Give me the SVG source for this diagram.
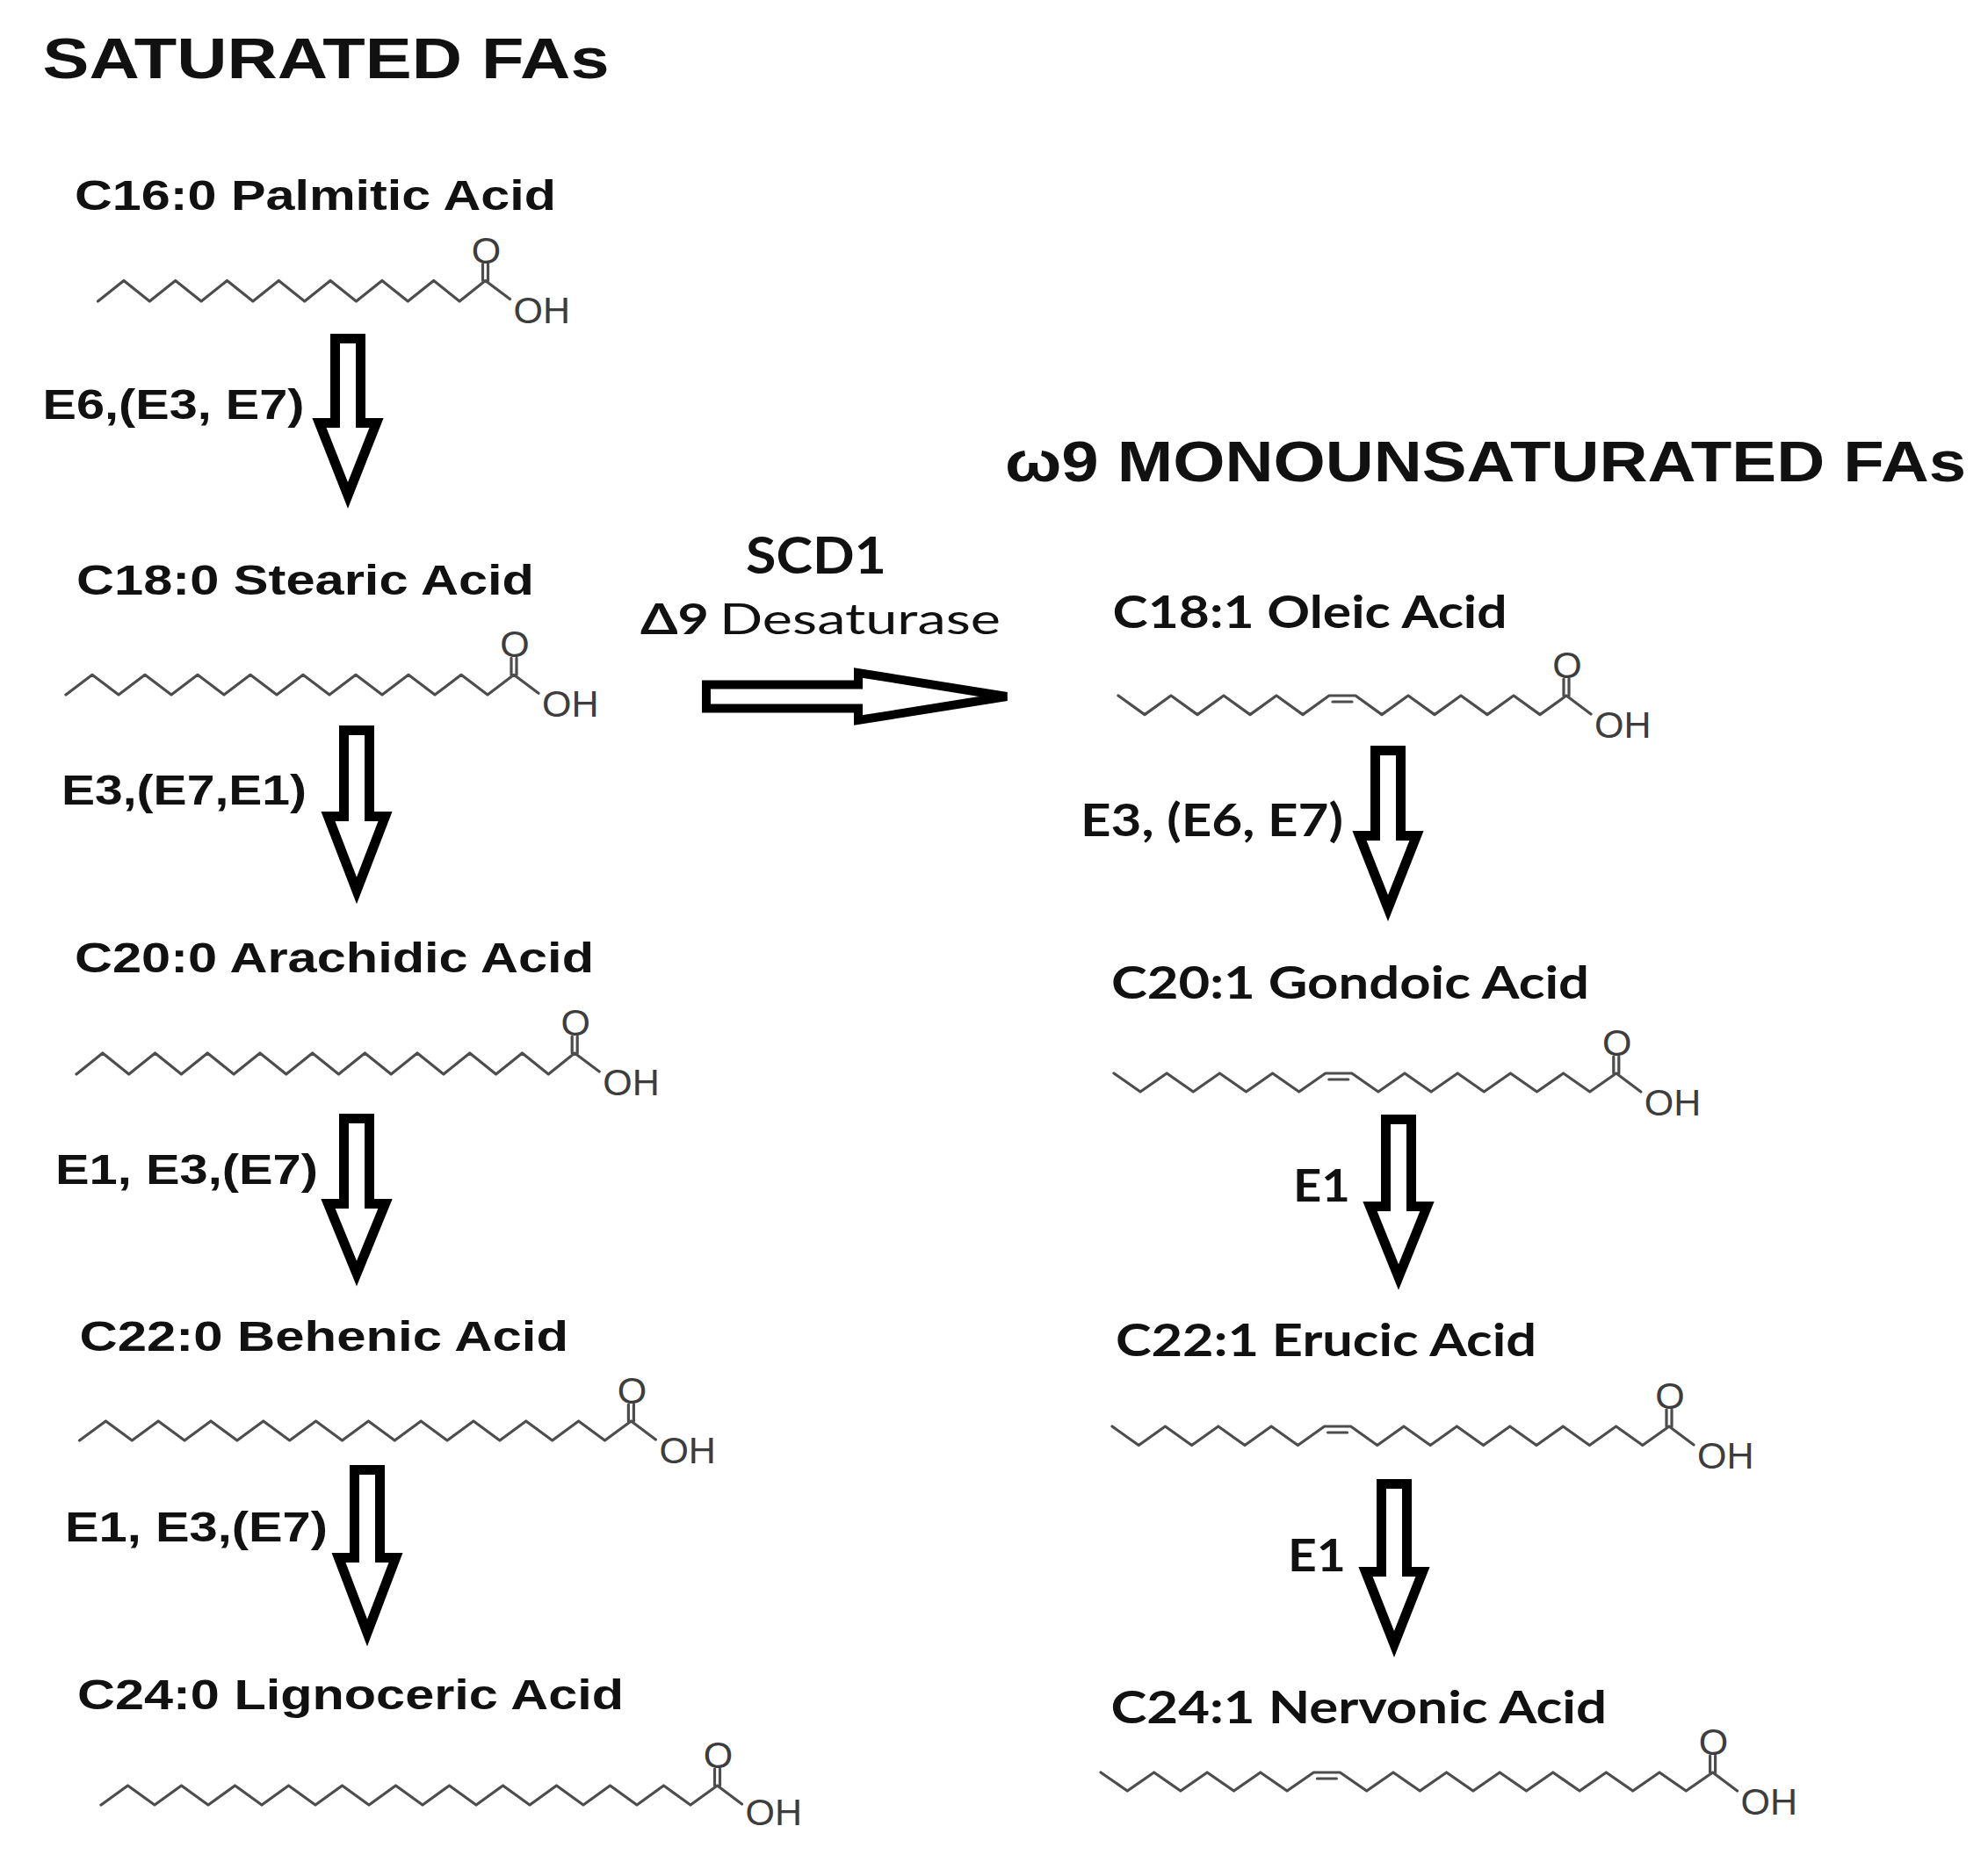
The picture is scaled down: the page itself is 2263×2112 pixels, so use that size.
<svg xmlns="http://www.w3.org/2000/svg" width="2263" height="2112" viewBox="0 0 2263 2112">
<style>
.title{font-family:"Liberation Sans",Arial,sans-serif;font-weight:bold;font-size:64px;fill:#111}
.lab{font-family:"Liberation Sans",Arial,sans-serif;font-weight:bold;font-size:49px;fill:#111}
.rlab{font-family:Lato,"Open Sans",sans-serif;font-weight:bold;font-size:52px;fill:#111}
.rreg{font-family:Lato,"Open Sans",sans-serif;font-weight:normal;font-size:48px;fill:#111}
.bond{fill:none;stroke:#4d4d4d;stroke-width:3.2;stroke-linejoin:round;stroke-linecap:round}
.atom{font-family:"Liberation Sans",Arial,sans-serif;font-size:43px;fill:#3d3d3d}
.mid{text-anchor:middle}
.arrow{fill:#fff;stroke:#000;stroke-width:11;stroke-linejoin:miter}
</style>
<rect width="2263" height="2112" fill="#fff"/>

<g id="titles">
<text class="title" x="48.5" y="89" textLength="645" lengthAdjust="spacingAndGlyphs">SATURATED FAs</text>
<text class="title" x="1144" y="548" textLength="1094" lengthAdjust="spacingAndGlyphs">ω9 MONOUNSATURATED FAs</text>
</g>

<g id="palmitic">
<text class="lab" x="85" y="239" textLength="548" lengthAdjust="spacingAndGlyphs">C16:0 Palmitic Acid</text>
<path class="bond" d="M111.5 343l29.4-23.5 29.4 23.5 29.4-23.5 29.4 23.5 29.4-23.5 29.4 23.5 29.4-23.5 29.4 23.5 29.4-23.5 29.4 23.5 29.4-23.5 29.4 23.5 29.4-23.5 29.4 23.5 29.4-23.5 28 21M549.5 319.5v-19M555.5 319.5v-19"/>
<text class="atom mid" x="553.5" y="299.5">O</text>
<text class="atom" x="584.5" y="367.5">OH</text>
</g>

<g id="stearic">
<text class="lab" x="87" y="676.6" textLength="521" lengthAdjust="spacingAndGlyphs">C18:0 Stearic Acid</text>
<path class="bond" d="M75 791l30-22.7 30 22.7 30-22.7 30 22.7 30-22.7 30 22.7 30-22.7 30 22.7 30-22.7 30 22.7 30-22.7 30 22.7 30-22.7 30 22.7 30-22.7 30 22.7 30-22.7 28 21M582 768.3v-19M588 768.3v-19"/>
<text class="atom mid" x="586" y="748.3">O</text>
<text class="atom" x="617" y="816.3">OH</text>
</g>

<g id="arachidic">
<text class="lab" x="85" y="1107" textLength="591" lengthAdjust="spacingAndGlyphs">C20:0 Arachidic Acid</text>
<path class="bond" d="M87 1223l29.85-24 29.85 24 29.85-24 29.85 24 29.85-24 29.85 24 29.85-24 29.85 24 29.85-24 29.85 24 29.85-24 29.85 24 29.85-24 29.85 24 29.85-24 29.85 24 29.85-24 29.85 24 29.85-24 28 21M651.2 1199v-19M657.2 1199v-19"/>
<text class="atom mid" x="655.2" y="1179">O</text>
<text class="atom" x="686.2" y="1247">OH</text>
</g>

<g id="behenic">
<text class="lab" x="90.5" y="1537.6" textLength="556.5" lengthAdjust="spacingAndGlyphs">C22:0 Behenic Acid</text>
<path class="bond" d="M90.5 1640l29.9-22 29.9 22 29.9-22 29.9 22 29.9-22 29.9 22 29.9-22 29.9 22 29.9-22 29.9 22 29.9-22 29.9 22 29.9-22 29.9 22 29.9-22 29.9 22 29.9-22 29.9 22 29.9-22 29.9 22 29.9-22 28 21M715.4 1618v-19M721.4 1618v-19"/>
<text class="atom mid" x="719.4" y="1598">O</text>
<text class="atom" x="750.4" y="1666">OH</text>
</g>

<g id="lignoceric">
<text class="lab" x="88" y="1946" textLength="622" lengthAdjust="spacingAndGlyphs">C24:0 Lignoceric Acid</text>
<path class="bond" d="M115 2055l30.5-22 30.5 22 30.5-22 30.5 22 30.5-22 30.5 22 30.5-22 30.5 22 30.5-22 30.5 22 30.5-22 30.5 22 30.5-22 30.5 22 30.5-22 30.5 22 30.5-22 30.5 22 30.5-22 30.5 22 30.5-22 30.5 22 30.5-22 28 21M813.5 2033v-19M819.5 2033v-19"/>
<text class="atom mid" x="817.5" y="2013">O</text>
<text class="atom" x="848.5" y="2078">OH</text>
</g>

<g id="oleic">
<text class="rlab" x="1266.6" y="714.8" textLength="449" lengthAdjust="spacingAndGlyphs">C18:1 Oleic Acid</text>
<path class="bond" d="M1273 792l30 21.6 30-21.6 30 21.6 30-21.6 30 21.6 30-21.6 30 21.6 30-21.6 30 0 30 21.6 30-21.6 30 21.6 30-21.6 30 21.6 30-21.6 30 21.6 30-21.6 28 21M1517 799H1539M1780 792v-19M1786 792v-19"/>
<text class="atom mid" x="1784" y="772">O</text>
<text class="atom" x="1815" y="840">OH</text>
</g>

<g id="gondoic">
<text class="rlab" x="1265" y="1137" textLength="544" lengthAdjust="spacingAndGlyphs">C20:1 Gondoic Acid</text>
<path class="bond" d="M1268 1222l30.1 21 30.1-21 30.1 21 30.1-21 30.1 21 30.1-21 30.1 21 30.1-21 30 0 30.1 21 30.1-21 30.1 21 30.1-21 30.1 21 30.1-21 30.1 21 30.1-21 30.1 21 30.1-21 28 21M1512.8 1229H1534.8M1836.8 1222v-19M1842.8 1222v-19"/>
<text class="atom mid" x="1840.8" y="1202">O</text>
<text class="atom" x="1871.8" y="1270">OH</text>
</g>

<g id="erucic">
<text class="rlab" x="1270" y="1544" textLength="479" lengthAdjust="spacingAndGlyphs">C22:1 Erucic Acid</text>
<path class="bond" d="M1266 1624l30.2 21.5 30.2-21.5 30.2 21.5 30.2-21.5 30.2 21.5 30.2-21.5 30.2 21.5 30.2-21.5 30 0 30.2 21.5 30.2-21.5 30.2 21.5 30.2-21.5 30.2 21.5 30.2-21.5 30.2 21.5 30.2-21.5 30.2 21.5 30.2-21.5 30.2 21.5 30.2-21.5 28 21M1511.6 1631H1533.6M1897 1624v-19M1903 1624v-19"/>
<text class="atom mid" x="1901" y="1604">O</text>
<text class="atom" x="1932" y="1672">OH</text>
</g>

<g id="nervonic">
<text class="rlab" x="1264.5" y="1962" textLength="564.5" lengthAdjust="spacingAndGlyphs">C24:1 Nervonic Acid</text>
<path class="bond" d="M1253 2018l30.3 21 30.3-21 30.3 21 30.3-21 30.3 21 30.3-21 30.3 21 30.3-21 30 0 30.3 21 30.3-21 30.3 21 30.3-21 30.3 21 30.3-21 30.3 21 30.3-21 30.3 21 30.3-21 30.3 21 30.3-21 30.3 21 30.3-21 28 21M1499.4 2025H1521.4M1946.6 2018v-19M1952.6 2018v-19"/>
<text class="atom mid" x="1950.6" y="1998">O</text>
<text class="atom" x="1981.6" y="2066">OH</text>
</g>

<g id="connectors">
<path class="arrow" d="M381.5 385.5H410.5V481.5H428.5L396 564L363.5 481.5H381.5Z"/>
<path class="arrow" d="M391.5 831.5H420.5V929.5H438.5L406 1014L373.5 929.5H391.5Z"/>
<path class="arrow" d="M391.5 1273.5H420.5V1370.5H438.5L406 1450L373.5 1370.5H391.5Z"/>
<path class="arrow" d="M403.5 1673.5H432.5V1773.5H450.5L418 1859L385.5 1773.5H403.5Z"/>
<path class="arrow" d="M1565.5 854.5H1594.5V951.5H1612.5L1580 1034L1547.5 951.5H1565.5Z"/>
<path class="arrow" d="M1577.5 1274.5H1606.5V1373.5H1624.5L1592 1454L1559.5 1373.5H1577.5Z"/>
<path class="arrow" d="M1572.5 1689.5H1601.5V1789.5H1619.5L1587 1872L1554.5 1789.5H1572.5Z"/>
<path class="arrow" style="stroke-width:10" d="M804 779.5H977V766L1146 793L977 820V806.5H804Z"/>
</g>

<g id="enzyme-labels">
<text class="lab" x="48.5" y="476.5" textLength="298" lengthAdjust="spacingAndGlyphs">E6,(E3, E7)</text>
<text class="lab" x="70" y="915.6" textLength="279" lengthAdjust="spacingAndGlyphs">E3,(E7,E1)</text>
<text class="lab" x="63" y="1348" textLength="299" lengthAdjust="spacingAndGlyphs">E1, E3,(E7)</text>
<text class="lab" x="74" y="1754.5" textLength="299" lengthAdjust="spacingAndGlyphs">E1, E3,(E7)</text>
<text class="rlab" x="1230" y="952" textLength="299" lengthAdjust="spacingAndGlyphs">E3, (E6, E7)</text>
<text class="rlab" x="1472" y="1368" textLength="65" lengthAdjust="spacingAndGlyphs">E1</text>
<text class="rlab" x="1466" y="1789" textLength="66" lengthAdjust="spacingAndGlyphs">E1</text>
<text class="rlab" x="849" y="653" style="font-size:57px" textLength="160" lengthAdjust="spacingAndGlyphs">SCD1</text>
<text class="rlab" x="729" y="722" style="font-size:48px" textLength="78" lengthAdjust="spacingAndGlyphs">Δ9</text>
<text class="rreg" x="819" y="722" textLength="320" lengthAdjust="spacingAndGlyphs">Desaturase</text>
</g>
</svg>
